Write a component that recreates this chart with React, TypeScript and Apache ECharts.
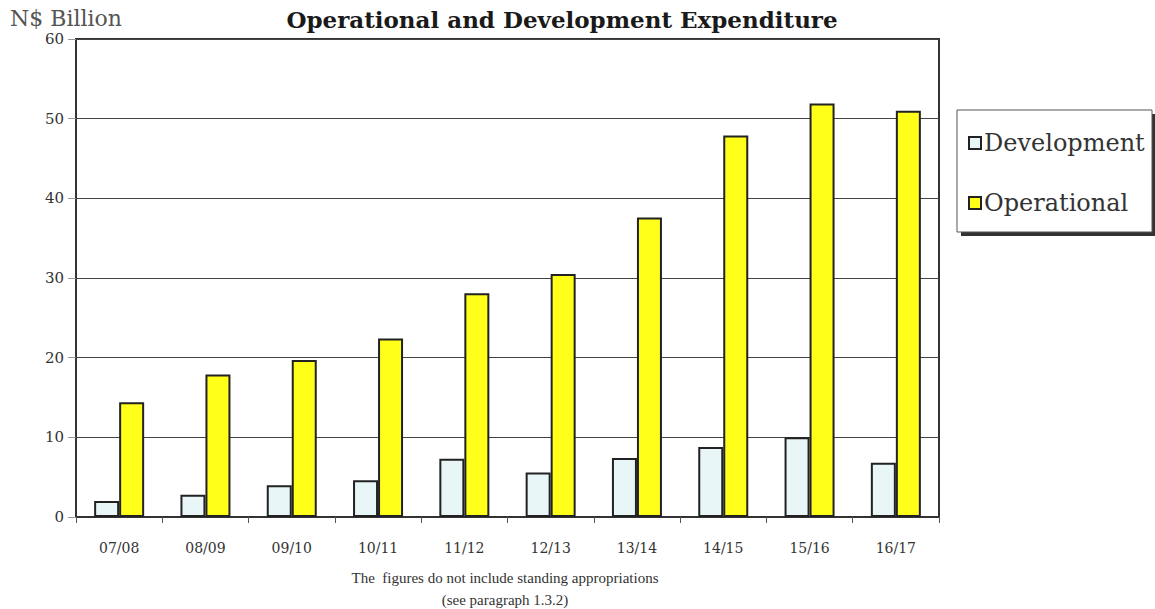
import React, { useEffect, useRef } from "react";
import * as echarts from "echarts";

const categories = ["07/08", "08/09", "09/10", "10/11", "11/12", "12/13", "13/14", "14/15", "15/16", "16/17"];
const development = [2.0, 2.8, 4.0, 4.6, 7.3, 5.6, 7.4, 8.8, 10.0, 6.8];
const operational = [14.4, 17.9, 19.7, 22.4, 28.1, 30.5, 37.6, 47.9, 51.9, 51.0];
const yTicks = [0, 10, 20, 30, 40, 50, 60];

const FONT = "DejaVu Serif";

export default function App() {
  const ref = useRef<HTMLDivElement>(null);
  useEffect(() => {
    if (!ref.current) return;
    const chart = echarts.init(ref.current, undefined, { renderer: "svg" });
    chart.setOption({
      animation: false,
      backgroundColor: "#ffffff",
      textStyle: { fontFamily: FONT },
      title: {
        text: "Operational and Development Expenditure",
        left: 557,
        textAlign: "center",
        top: 3,
        textStyle: { fontFamily: FONT, fontWeight: "bold", fontSize: 23, color: "#1a1a1a" },
      },
      grid: { left: 76, right: 216, top: 39, bottom: 92, show: true, borderColor: "#333", borderWidth: 2, containLabel: false },
      legend: {
        orient: "vertical",
        left: 963,
        top: 126,
        itemGap: 36,
        itemWidth: 12,
        itemHeight: 12,
        icon: "rect",
        textStyle: { fontFamily: FONT, fontSize: 24, color: "#333", padding: [0, 0, 0, -2] },
        data: ["Development", "Operational"],
      },
      xAxis: {
        type: "category",
        data: categories,
        axisLine: { lineStyle: { color: "#333", width: 2 } },
        axisTick: { show: true, length: 6, lineStyle: { color: "#555" } },
        axisLabel: { fontFamily: FONT, fontSize: 14, color: "#333", margin: 24 },
      },
      yAxis: {
        type: "value",
        min: yTicks[0],
        max: yTicks[yTicks.length - 1],
        interval: 10,
        axisLine: { show: true, lineStyle: { color: "#333", width: 2 } },
        axisTick: { show: true, length: 8, lineStyle: { color: "#999" } },
        axisLabel: { fontFamily: FONT, fontSize: 15, color: "#333", margin: 12 },
        splitLine: { lineStyle: { color: "#444", width: 1 } },
      },
      series: [
        {
          name: "Development",
          type: "bar",
          data: development,
          barWidth: 25,
          barGap: "0%",
          itemStyle: { color: "#E8F6F8", borderColor: "#222", borderWidth: 2 },
        },
        {
          name: "Operational",
          type: "bar",
          data: operational,
          barWidth: 25,
          itemStyle: { color: "#FFFF1A", borderColor: "#222", borderWidth: 2 },
        },
      ],
      graphic: [
        {
          type: "text",
          left: 10,
          top: 7,
          style: { text: "N$ Billion", fontFamily: FONT, fontSize: 22, fill: "#555" },
        },
        {
          type: "rect",
          z: -1,
          shape: { x: 961, y: 114, width: 195, height: 122 },
          style: { fill: "#333" },
        },
        {
          type: "rect",
          z: 0,
          shape: { x: 957, y: 110, width: 195, height: 122 },
          style: { fill: "#fff", stroke: "#555", lineWidth: 1 },
        },
        {
          type: "text",
          x: 505,
          y: 570,
          style: { text: "The  figures do not include standing appropriations", fontFamily: "Liberation Serif", fontSize: 15, fill: "#333", align: "center" },
        },
        {
          type: "text",
          x: 505,
          y: 592,
          style: { text: "(see paragraph 1.3.2)", fontFamily: "Liberation Serif", fontSize: 15, fill: "#333", align: "center" },
        },
      ],
    });
    return () => chart.dispose();
  }, []);
  return <div ref={ref} style={{ width: 1155, height: 609, position: "absolute", left: 0, top: 0 }} />;
}
